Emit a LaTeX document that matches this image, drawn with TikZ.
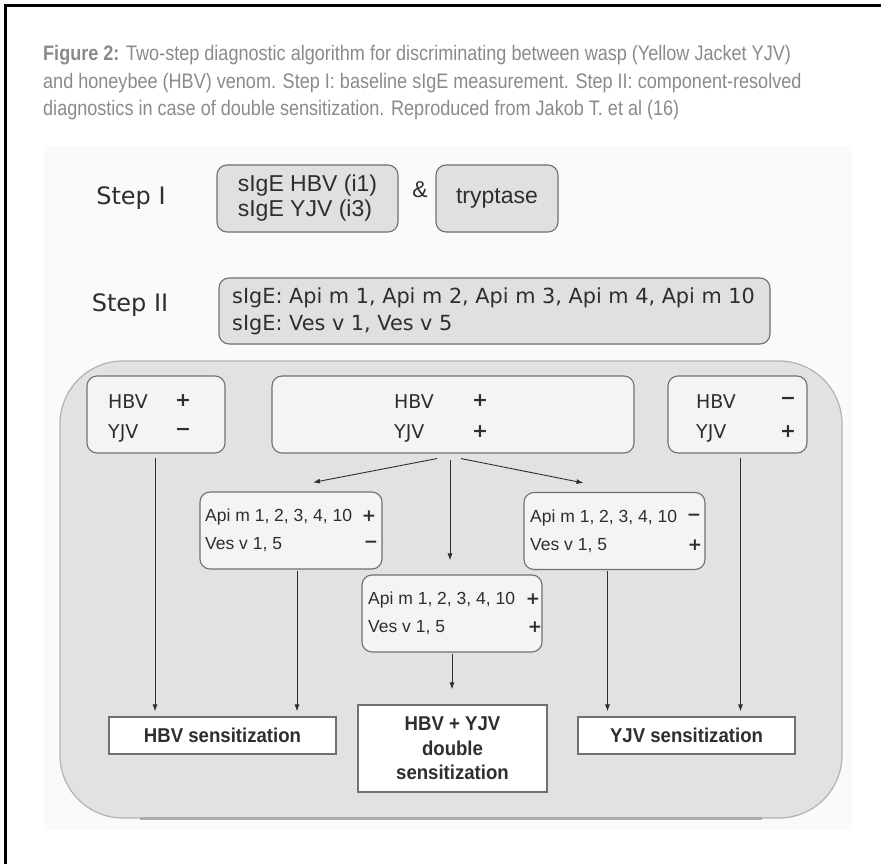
\documentclass[tikz,border=0pt]{standalone}
\usepackage{fontspec}
\setmainfont{Liberation Sans}
\newfontfamily\capfont[FakeStretch=0.86]{Liberation Sans}
\newfontfamily\vfont{DejaVu Sans}
\newfontfamily\condbf[FakeStretch=0.93]{Liberation Sans}
\usetikzlibrary{arrows.meta,calc}
\definecolor{capgray}{HTML}{8A8A8A}
\definecolor{ink}{HTML}{2E2E2E}
\definecolor{edge}{HTML}{707070}
\definecolor{cont}{HTML}{E2E2E2}
\definecolor{stepfill}{HTML}{E0E0E0}
\definecolor{inner}{HTML}{F4F4F4}
\definecolor{backdrop}{HTML}{FAFAFA}
\tikzset{
  stepbox/.style={draw=edge, line width=1.1pt, rounded corners=10pt, fill=stepfill, inner sep=0pt},
  innerbox/.style={draw=edge, line width=1.1pt, rounded corners=10pt, fill=inner, inner sep=0pt},
  resbox/.style={draw=edge, line width=1.1pt, fill=white, inner sep=0pt},
  txt/.style={inner sep=0pt, anchor=west, text=ink},
  signtxt/.style={inner sep=0pt, text=ink, font=\vfont\bfseries\fontsize{19}{19}\selectfont},
  asigntxt/.style={inner sep=0pt, text=ink, font=\vfont\bfseries\fontsize{17}{17}\selectfont},
  arr/.style={draw=ink, line width=0.9pt, -{Latex[length=7pt,width=5pt]}},
  captxt/.style={inner sep=0pt, anchor=west, text=capgray, font=\capfont\fontsize{21}{21}\selectfont},
  vtxt/.style={txt, font=\vfont\fontsize{19}{19}\selectfont},
  apitxt/.style={txt, font=\fontsize{17.5}{17.5}\selectfont},
  restxt/.style={font=\condbf\bfseries\fontsize{20}{24.5}\selectfont, text=ink, align=center},
}
\begin{document}
\begin{tikzpicture}[x=1pt,y=-1pt]
\useasboundingbox (0,0) rectangle (881,864);
% frame edges (top and left)
\draw[line width=2.6pt, black] (881,5.5) -- (5.5,5.5) -- (5.5,864);
% caption
\node[captxt] (cap1) at (43,55) {\textbf{Figure 2:} Two-step diagnostic algorithm for discriminating between wasp (Yellow Jacket YJV)};
\node[captxt] (cap2) at (43,83) {and honeybee (HBV) venom. Step I: baseline sIgE measurement. Step II: component-resolved};
\node[captxt] (cap3) at (43,110) {diagnostics in case of double sensitization. Reproduced from Jakob T. et al (16)};
% backdrop
\fill[backdrop] (44,146) rectangle (852,830);
% Step I
\node[inner sep=0pt, text=ink, font=\vfont\fontsize{24}{24}\selectfont] (s1lab) at (131,198) {Step I};
\node[stepbox, minimum width=181pt, minimum height=67pt, align=left,
      font=\fontsize{23}{25}\selectfont, text=ink] (b1) at (307.5,198.5) {sIgE HBV (i1)\\sIgE YJV (i3)};
\node[inner sep=0pt, text=ink, font=\fontsize{23}{23}\selectfont] (amp) at (420,190) {\&};
\node[stepbox, minimum width=122pt, minimum height=67pt,
      font=\fontsize{23}{25}\selectfont, text=ink] (tryp) at (497,198.5) {tryptase};
% Step II
\node[inner sep=0pt, text=ink, font=\vfont\fontsize{24}{24}\selectfont] (s2lab) at (130,305) {Step II};
\node[stepbox, minimum width=551pt, minimum height=66pt] (b2) at (494.5,311) {};
\node[txt, font=\vfont\fontsize{20.8}{20.8}\selectfont] (b2t1) at (232,298) {sIgE: Api m 1, Api m 2, Api m 3, Api m 4, Api m 10};
\node[txt, font=\vfont\fontsize{20.8}{20.8}\selectfont] (b2t2) at (232,325) {sIgE: Ves v 1, Ves v 5};
% container
\draw[draw=gray!60, line width=1.2pt, fill=cont, rounded corners=63pt] (60,361) rectangle (842,818);
\draw[gray!65, line width=2.4pt] (140,818.5) -- (762,818.5);
% first row boxes
\node[innerbox, minimum width=138pt, minimum height=77pt] (ib1) at (156,414.5) {};
\node[innerbox, minimum width=362pt, minimum height=77pt] (ib2) at (453,414.5) {};
\node[innerbox, minimum width=139pt, minimum height=77pt] (ib3) at (737.5,414.5) {};
\node[vtxt] (ib1a) at (108,402) {HBV}; \node[signtxt] (ib1b) at (183,401) {+};
\node[vtxt] (ib1c) at (108,433) {YJV}; \node[signtxt] (ib1d) at (183,432) {\textminus};
\node[vtxt] (ib2a) at (394,402) {HBV}; \node[signtxt] (ib2b) at (480,401) {+};
\node[vtxt] (ib2c) at (394,433) {YJV}; \node[signtxt] (ib2d) at (480,432) {+};
\node[vtxt] (ib3a) at (696,402) {HBV}; \node[signtxt] (ib3b) at (788,401) {\textminus};
\node[vtxt] (ib3c) at (696,433) {YJV}; \node[signtxt] (ib3d) at (788,432) {+};
% component boxes
\node[innerbox, minimum width=182pt, minimum height=77pt] (ab1) at (291,530.5) {};
\node[innerbox, minimum width=181pt, minimum height=77pt] (ab2) at (614.5,531) {};
\node[innerbox, minimum width=180pt, minimum height=77pt] (ab3) at (452,613.5) {};
\node[apitxt] (ab1a) at (205,517) {Api m 1, 2, 3, 4, 10}; \node[asigntxt] (ab1b) at (369,516) {+};
\node[apitxt] (ab1c) at (205,545) {Ves v 1, 5};           \node[asigntxt] (ab1d) at (371,544) {\textminus};
\node[apitxt] (ab2a) at (530,518) {Api m 1, 2, 3, 4, 10}; \node[asigntxt] (ab2b) at (694,517) {\textminus};
\node[apitxt] (ab2c) at (530,546) {Ves v 1, 5};           \node[asigntxt] (ab2d) at (695,545) {+};
\node[apitxt] (ab3a) at (368,600) {Api m 1, 2, 3, 4, 10}; \node[asigntxt] (ab3b) at (533,599) {+};
\node[apitxt] (ab3c) at (368,628) {Ves v 1, 5};           \node[asigntxt] (ab3d) at (535,627) {+};
% result boxes
\node[resbox, restxt, minimum width=227pt, minimum height=37pt] (r1) at (222.5,735.5) {HBV sensitization};
\node[resbox, restxt, minimum width=189pt, minimum height=87pt] (r2) at (452.5,748.5) {HBV + YJV\\double\\sensitization};
\node[resbox, restxt, minimum width=217pt, minimum height=37pt] (r3) at (686.5,735.5) {YJV sensitization};
% connectors
\draw[arr, shorten <=4pt, shorten >=5pt] ([xshift=-1pt]ib1.south) -- ([xshift=-1pt]ib1.south |- r1.north);
\draw[arr, shorten <=1pt, shorten >=5pt] ([xshift=6pt]ab1.south) -- ([xshift=6pt]ab1.south |- r1.north);
\draw[arr, shorten <=1pt, shorten >=5pt] ([xshift=-7pt]ab2.south) -- ([xshift=-7pt]ab2.south |- r3.north);
\draw[arr, shorten <=4pt, shorten >=5pt] ([xshift=3pt]ib3.south) -- ([xshift=3pt]ib3.south |- r3.north);
\draw[arr, shorten <=1pt, shorten >=15pt] (ab3.south) -- (ab3.south |- r2.north);
\draw[arr, shorten <=6pt, shorten >=14pt] ([xshift=-3pt]ib2.south) -- ([xshift=-3pt]ib2.south |- ab3.north);
\draw[arr] ([xshift=-16pt,yshift=-5pt]ib2.south) -- ([xshift=22pt,yshift=9pt]ab1.north);
\draw[arr] ([xshift=8pt,yshift=-5pt]ib2.south) -- ([xshift=-31pt,yshift=9pt]ab2.north);
\end{tikzpicture}
\end{document}
